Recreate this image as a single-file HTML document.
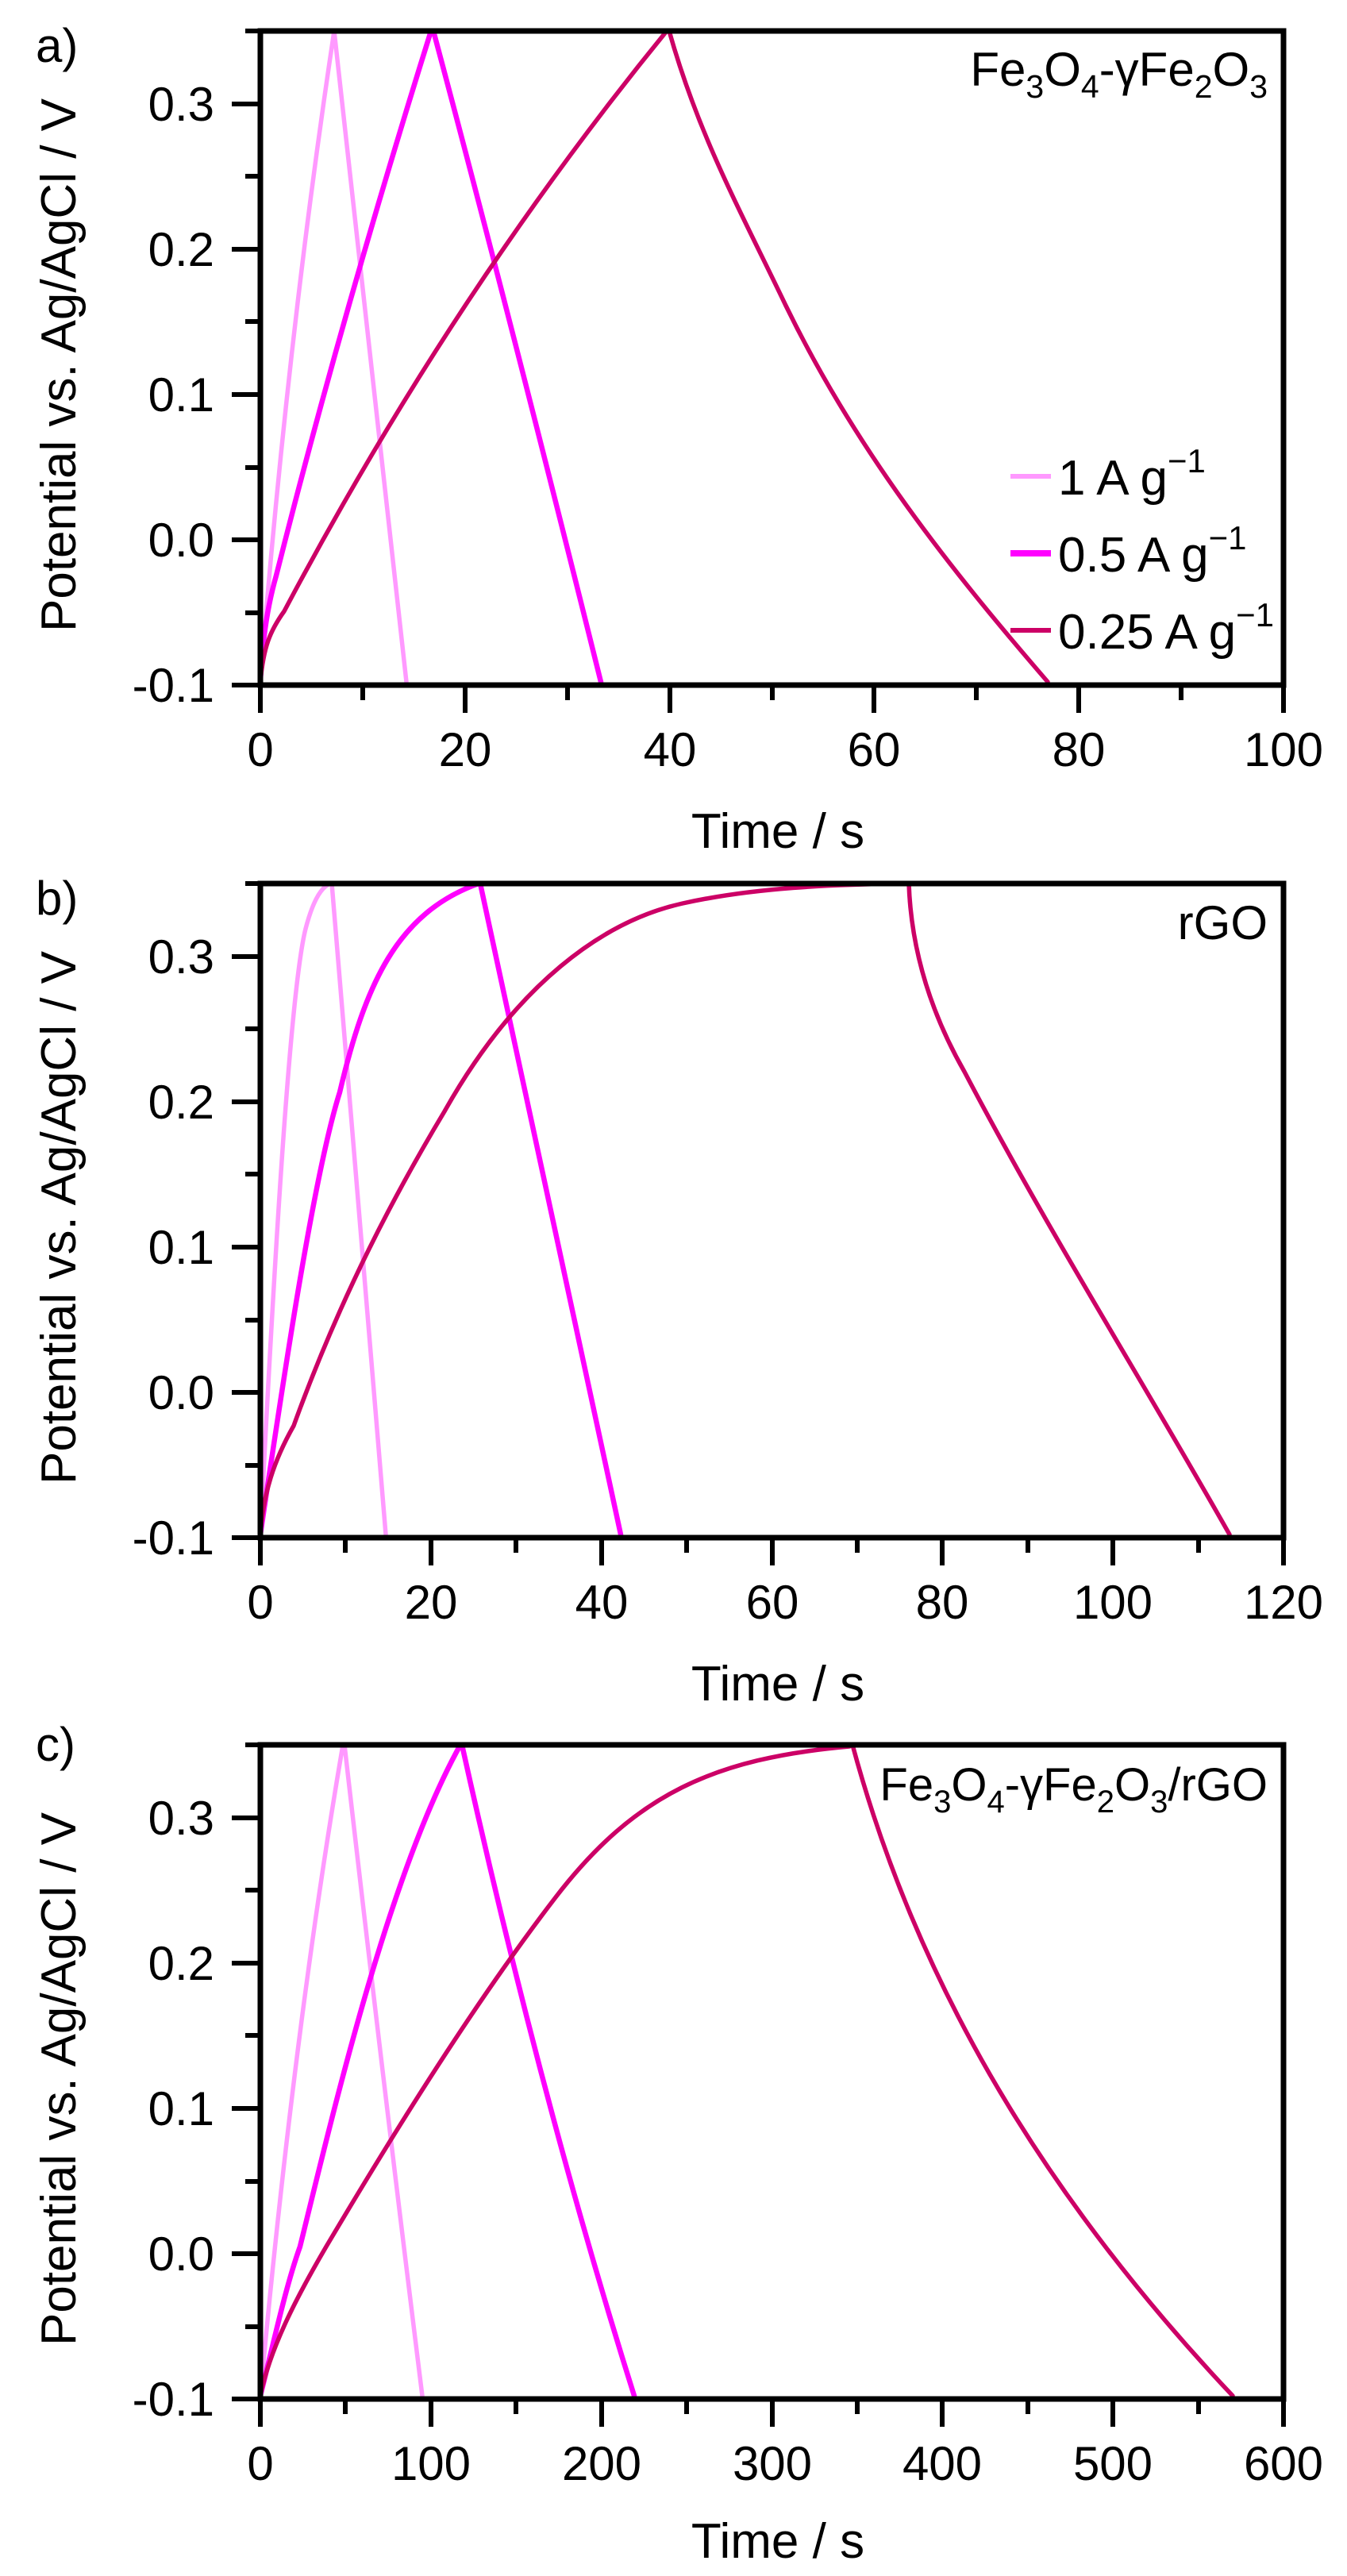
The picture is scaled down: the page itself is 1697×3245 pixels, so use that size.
<!DOCTYPE html>
<html><head><meta charset="utf-8"><style>html,body{margin:0;padding:0;background:#fff}svg{display:block}</style></head>
<body>
<svg width="1697" height="3245" viewBox="0 0 1697 3245" xmlns="http://www.w3.org/2000/svg" font-family="'Liberation Sans', Arial, sans-serif">
<rect width="1697" height="3245" fill="#fff"/>

<!-- ===== Panel a ===== -->
<g>
<g fill="none" stroke-linejoin="round" stroke-linecap="round">
<path stroke="#ff99ff" stroke-width="5.5" d="M328,859 Q362,430 421,39 Q462,420 512,859"/>
<path stroke="#ff00ff" stroke-width="6.5" d="M328,859 C331,800 338,760 348,725 Q430,400 543,39 L546,39 Q640,390 757,859"/>
<path stroke="#cc0066" stroke-width="5.5" d="M328,859 C332,815 340,795 358,770 Q570,370 840,39 L843,39 C880,170 930,260 990,385 C1080,570 1200,720 1320,859"/>
</g>
<rect x="328" y="39" width="1289" height="824" fill="none" stroke="#000" stroke-width="7"/>
<g stroke="#000" stroke-width="6">
<path d="M328,863v35M586,863v35M844,863v35M1101,863v35M1359,863v35M1617,863v35"/>
<path d="M457,863v19M715,863v19M973,863v19M1230,863v19M1488,863v19"/>
<path d="M328,863h-36M328,680h-36M328,497h-36M328,314h-36M328,131h-36"/>
<path d="M328,772h-19M328,589h-19M328,405h-19M328,222h-19M328,39h-19"/>
</g>
<g font-size="60" text-anchor="end" fill="#000">
<text x="270" y="884">-0.1</text><text x="270" y="701">0.0</text><text x="270" y="518">0.1</text><text x="270" y="335">0.2</text><text x="270" y="152">0.3</text>
</g>
<g font-size="60" text-anchor="middle" fill="#000">
<text x="328" y="965">0</text><text x="586" y="965">20</text><text x="844" y="965">40</text><text x="1101" y="965">60</text><text x="1359" y="965">80</text><text x="1617" y="965">100</text>
<text x="980" y="1068" font-size="62">Time / s</text>
</g>
<text transform="translate(95,460) rotate(-90)" font-size="62" text-anchor="middle">Potential vs. Ag/AgCl / V</text>
<text x="45" y="78" font-size="60">a)</text>
<text x="1597" y="108" font-size="60" text-anchor="end">Fe<tspan font-size="41" dy="15">3</tspan><tspan dy="-15">O</tspan><tspan font-size="41" dy="15">4</tspan><tspan dy="-15">-γFe</tspan><tspan font-size="41" dy="15">2</tspan><tspan dy="-15">O</tspan><tspan font-size="41" dy="15">3</tspan></text>
<line x1="1273" y1="600" x2="1324" y2="600" stroke="#ff99ff" stroke-width="6"/>
<line x1="1273" y1="697" x2="1324" y2="697" stroke="#ff00ff" stroke-width="8"/>
<line x1="1273" y1="794" x2="1324" y2="794" stroke="#cc0066" stroke-width="6"/>
<g font-size="62">
<text x="1333" y="623">1 A g<tspan font-size="42" dy="-28">−1</tspan></text>
<text x="1333" y="720">0.5 A g<tspan font-size="42" dy="-28">−1</tspan></text>
<text x="1333" y="817">0.25 A g<tspan font-size="42" dy="-28">−1</tspan></text>
</g>
</g>

<!-- ===== Panel b ===== -->
<g>
<g fill="none" stroke-linejoin="round" stroke-linecap="round">
<path stroke="#ff99ff" stroke-width="5.5" d="M328,1933 C345,1600 365,1250 385,1170 Q398,1120 416,1113 L418,1113 Q450,1520 486,1933"/>
<path stroke="#ff00ff" stroke-width="6.5" d="M328,1933 C355,1750 395,1480 428,1376 C460,1240 500,1150 603,1113 L605,1113 Q690,1500 782,1933"/>
<path stroke="#cc0066" stroke-width="5.5" d="M328,1933 C332,1880 345,1840 370,1796 C430,1630 500,1500 560,1400 C650,1240 760,1160 860,1138 C950,1118 1050,1114 1140,1113 L1145,1113 C1148,1200 1175,1280 1215,1350 C1320,1550 1440,1740 1549,1933"/>
</g>
<rect x="328" y="1113" width="1289" height="824" fill="none" stroke="#000" stroke-width="7"/>
<g stroke="#000" stroke-width="6">
<path d="M328,1937v35M543,1937v35M758,1937v35M973,1937v35M1187,1937v35M1402,1937v35M1617,1937v35"/>
<path d="M435,1937v19M650,1937v19M865,1937v19M1080,1937v19M1295,1937v19M1510,1937v19"/>
<path d="M328,1937h-36M328,1754h-36M328,1571h-36M328,1388h-36M328,1205h-36"/>
<path d="M328,1846h-19M328,1663h-19M328,1479h-19M328,1296h-19M328,1113h-19"/>
</g>
<g font-size="60" text-anchor="end" fill="#000">
<text x="270" y="1958">-0.1</text><text x="270" y="1775">0.0</text><text x="270" y="1592">0.1</text><text x="270" y="1409">0.2</text><text x="270" y="1226">0.3</text>
</g>
<g font-size="60" text-anchor="middle" fill="#000">
<text x="328" y="2039">0</text><text x="543" y="2039">20</text><text x="758" y="2039">40</text><text x="973" y="2039">60</text><text x="1187" y="2039">80</text><text x="1402" y="2039">100</text><text x="1617" y="2039">120</text>
<text x="980" y="2142" font-size="62">Time / s</text>
</g>
<text transform="translate(95,1534) rotate(-90)" font-size="62" text-anchor="middle">Potential vs. Ag/AgCl / V</text>
<text x="45" y="1152" font-size="60">b)</text>
<text x="1597" y="1183" font-size="60" text-anchor="end">rGO</text>
</g>

<!-- ===== Panel c ===== -->
<g>
<g fill="none" stroke-linejoin="round" stroke-linecap="round">
<path stroke="#ff99ff" stroke-width="5.5" d="M328,3018 Q370,2560 432,2198 L434,2198 Q480,2600 532,3018"/>
<path stroke="#ff00ff" stroke-width="6.5" d="M328,3018 C345,2950 360,2880 378,2830 C420,2660 490,2360 580,2198 L582,2198 Q680,2640 799,3018"/>
<path stroke="#cc0066" stroke-width="5.5" d="M328,3018 C340,2960 370,2900 411,2830 C500,2680 600,2520 700,2390 C800,2260 900,2215 1070,2200 L1074,2198 C1150,2480 1300,2750 1553,3018"/>
</g>
<rect x="328" y="2198" width="1289" height="824" fill="none" stroke="#000" stroke-width="7"/>
<g stroke="#000" stroke-width="6">
<path d="M328,3022v35M543,3022v35M758,3022v35M973,3022v35M1187,3022v35M1402,3022v35M1617,3022v35"/>
<path d="M435,3022v19M650,3022v19M865,3022v19M1080,3022v19M1295,3022v19M1510,3022v19"/>
<path d="M328,3022h-36M328,2839h-36M328,2656h-36M328,2473h-36M328,2290h-36"/>
<path d="M328,2931h-19M328,2748h-19M328,2564h-19M328,2381h-19M328,2198h-19"/>
</g>
<g font-size="60" text-anchor="end" fill="#000">
<text x="270" y="3043">-0.1</text><text x="270" y="2860">0.0</text><text x="270" y="2677">0.1</text><text x="270" y="2494">0.2</text><text x="270" y="2311">0.3</text>
</g>
<g font-size="60" text-anchor="middle" fill="#000">
<text x="328" y="3124">0</text><text x="543" y="3124">100</text><text x="758" y="3124">200</text><text x="973" y="3124">300</text><text x="1187" y="3124">400</text><text x="1402" y="3124">500</text><text x="1617" y="3124">600</text>
<text x="980" y="3222" font-size="62">Time / s</text>
</g>
<text transform="translate(95,2619) rotate(-90)" font-size="62" text-anchor="middle">Potential vs. Ag/AgCl / V</text>
<text x="45" y="2218" font-size="60">c)</text>
<text x="1597" y="2268" font-size="58" text-anchor="end">Fe<tspan font-size="40" dy="15">3</tspan><tspan dy="-15">O</tspan><tspan font-size="40" dy="15">4</tspan><tspan dy="-15">-γFe</tspan><tspan font-size="40" dy="15">2</tspan><tspan dy="-15">O</tspan><tspan font-size="40" dy="15">3</tspan><tspan dy="-15">/rGO</tspan></text>
</g>
</svg>
</body></html>
